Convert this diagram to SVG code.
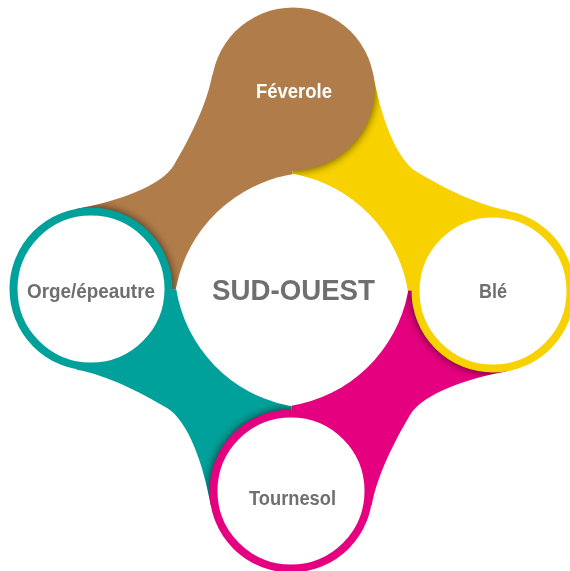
<svg xmlns="http://www.w3.org/2000/svg" xmlns:xlink="http://www.w3.org/1999/xlink" width="570" height="571" viewBox="0 0 570 571">
<style>
.lbl{font-family:"Liberation Sans",Arial,sans-serif;font-weight:bold;font-size:21px;fill:#6f6f6f;text-anchor:middle}
.title{font-family:"Liberation Sans",Arial,sans-serif;font-weight:bold;font-size:30px;fill:#6f6f6f;text-anchor:middle}
.ring{fill:#fff;stroke-width:8}
.shd{fill:#000}
</style>
<defs>
<path id="body" d="M91,289 L77,208.7 C116,201.7 161,186.6 174,165 C190,138 207,104.3 212.25,74.76 L293,89 L292,290 Z"/>
<clipPath id="cB"><use href="#body" xlink:href="#body"/></clipPath>
<clipPath id="cY"><use href="#body" xlink:href="#body" transform="rotate(90 292 290)"/></clipPath>
<clipPath id="cM"><use href="#body" xlink:href="#body" transform="rotate(180 292 290)"/></clipPath>
<clipPath id="cT"><use href="#body" xlink:href="#body" transform="rotate(270 292 290)"/></clipPath>
<filter id="sh" x="-30%" y="-30%" width="160%" height="160%"><feGaussianBlur stdDeviation="4"/></filter>
</defs>
<rect width="570" height="571" fill="#fff"/>
<g id="connectors">
<use href="#body" xlink:href="#body" fill="#B07C4A"/>
<use href="#body" xlink:href="#body" fill="#F7D100" transform="rotate(90 292 290)"/>
<use href="#body" xlink:href="#body" fill="#E4007E" transform="rotate(180 292 290)"/>
<use href="#body" xlink:href="#body" fill="#00A19A" transform="rotate(270 292 290)"/>
</g>
<g id="shadows" opacity="0.6">
<g clip-path="url(#cB)"><circle class="shd" cx="91" cy="289" r="82" filter="url(#sh)"/></g>
<g clip-path="url(#cY)"><circle class="shd" cx="293" cy="89" r="82" filter="url(#sh)"/></g>
<g clip-path="url(#cM)"><circle class="shd" cx="493" cy="291" r="82" filter="url(#sh)"/></g>
<g clip-path="url(#cT)"><circle class="shd" cx="291" cy="491" r="82" filter="url(#sh)"/></g>
</g>
<g id="sud-ouest">
<path d="M294,174 A142,142 0 0 1 408,292 A142,142 0 0 1 290,406 A142,142 0 0 1 176,288 A142,142 0 0 1 294,174 Z" fill="#fff"/>
<text class="title" x="293.5" y="300" textLength="163" lengthAdjust="spacingAndGlyphs">SUD-OUEST</text>
</g>
<g id="feverole">
<circle cx="293" cy="89" r="81.5" fill="#B07C4A"/>
<text class="lbl" x="294" y="98" style="fill:#fff" textLength="76" lengthAdjust="spacingAndGlyphs">Féverole</text>
</g>
<g id="ble">
<circle class="ring" cx="493" cy="291" r="77.5" stroke="#F7D100"/>
<text class="lbl" x="493" y="298" textLength="28" lengthAdjust="spacingAndGlyphs">Blé</text>
</g>
<g id="tournesol">
<circle class="ring" cx="291" cy="491" r="77.5" stroke="#E4007E"/>
<text class="lbl" x="292.5" y="505" textLength="87" lengthAdjust="spacingAndGlyphs">Tournesol</text>
</g>
<g id="orge-epeautre">
<circle class="ring" cx="91" cy="289" r="77.5" stroke="#00A19A"/>
<text class="lbl" x="91" y="298" textLength="128" lengthAdjust="spacingAndGlyphs">Orge/épeautre</text>
</g>
</svg>
